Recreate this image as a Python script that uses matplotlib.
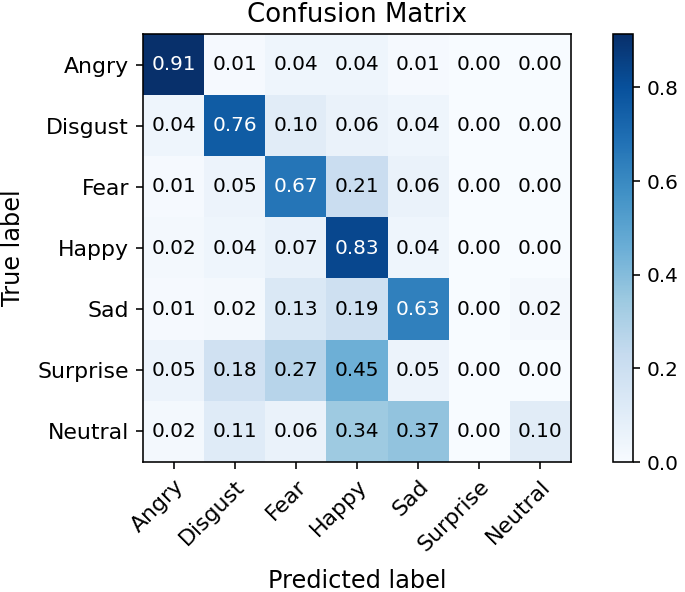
import numpy as np
import matplotlib
matplotlib.use("Agg")
import matplotlib.pyplot as plt

classes = ["Angry", "Disgust", "Fear", "Happy", "Sad", "Surprise", "Neutral"]

angry    = [0.914, 0.01, 0.04, 0.04, 0.01, 0.00, 0.00]
disgust  = [0.04, 0.76, 0.10, 0.06, 0.04, 0.00, 0.00]
fear     = [0.01, 0.05, 0.67, 0.21, 0.06, 0.00, 0.00]
happy    = [0.02, 0.04, 0.07, 0.83, 0.04, 0.00, 0.00]
sad      = [0.01, 0.02, 0.13, 0.19, 0.63, 0.00, 0.02]
surprise = [0.05, 0.18, 0.27, 0.45, 0.05, 0.00, 0.00]
neutral  = [0.02, 0.11, 0.06, 0.34, 0.37, 0.00, 0.10]

cm = np.array([angry, disgust, fear, happy, sad, surprise, neutral])

fig = plt.figure(figsize=(685/144, 592/144), dpi=144)
ax = fig.add_axes([143/685, 1-462/592, 428/685, 428/592])
cax = fig.add_axes([613/685, 1-462/592, 20/685, 428/592])

im = ax.imshow(cm, interpolation='nearest', cmap=plt.cm.Blues, vmin=0)
ax.set_title("Confusion Matrix", fontsize=13)
cb = fig.colorbar(im, cax=cax, ticks=[0.0, 0.2, 0.4, 0.6, 0.8])
cb.ax.tick_params(labelsize=10)

ticks = np.arange(len(classes))
ax.set_xticks(ticks)
ax.set_xticklabels(classes, rotation=45, ha="right", rotation_mode="anchor", fontsize=11)
ax.set_yticks(ticks)
ax.set_yticklabels(classes, fontsize=11)

thresh = cm.max() / 2.
for i in range(cm.shape[0]):
    for j in range(cm.shape[1]):
        ax.text(j, i, format(cm[i, j], '.2f'),
                ha="center", va="center", fontsize=10,
                color="white" if cm[i, j] > thresh else "black")

ax.set_ylabel("True label", fontsize=12, labelpad=6)
ax.set_xlabel("Predicted label", fontsize=12, labelpad=7)

fig.savefig("out.png", dpi=144)
